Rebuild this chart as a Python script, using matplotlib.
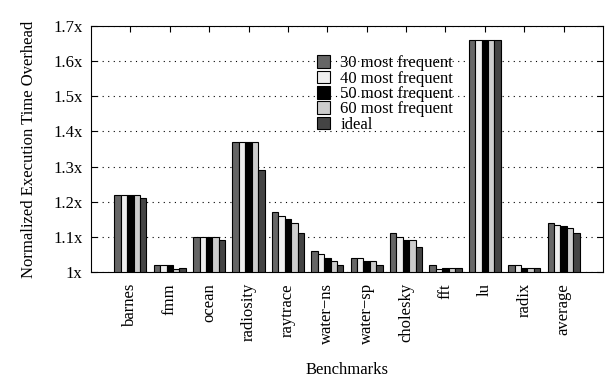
import matplotlib
matplotlib.use("Agg")
import matplotlib.pyplot as plt
import numpy as np

categories = ["barnes", "fmm", "ocean", "radiosity", "raytrace", "water\u2212ns",
              "water\u2212sp", "cholesky", "fft", "lu", "radix", "average"]
series_names = ["30 most frequent", "40 most frequent", "50 most frequent",
                "60 most frequent", "ideal"]
s30 = [1.22, 1.02, 1.10, 1.37, 1.17, 1.06, 1.04, 1.11, 1.02, 1.66, 1.02, 1.14]
s40 = [1.22, 1.02, 1.10, 1.37, 1.16, 1.05, 1.04, 1.10, 1.008, 1.66, 1.02, 1.135]
s50 = [1.22, 1.02, 1.10, 1.37, 1.15, 1.04, 1.03, 1.09, 1.01, 1.66, 1.01, 1.13]
s60 = [1.22, 1.008, 1.10, 1.37, 1.14, 1.03, 1.03, 1.09, 1.01, 1.66, 1.01, 1.125]
ideal = [1.21, 1.01, 1.09, 1.29, 1.11, 1.02, 1.02, 1.07, 1.01, 1.66, 1.01, 1.11]
yticks = [1.0, 1.1, 1.2, 1.3, 1.4, 1.5, 1.6, 1.7]
ytick_labels = ["1x", "1.1x", "1.2x", "1.3x", "1.4x", "1.5x", "1.6x", "1.7x"]

colors = ["#666666", "#eeeeee", "#000000", "#cccccc", "#444444"]
series = [s30, s40, s50, s60, ideal]

plt.rcParams['font.family'] = ['Liberation Serif', 'DejaVu Serif']
fig = plt.figure(figsize=(6.08, 3.81), dpi=100)
ax = fig.add_axes([91/608, 1-272/381, (603-91)/608, (272-26)/381])

x = np.arange(len(categories))
w = 0.163
for i, (vals, c, name) in enumerate(zip(series, colors, series_names)):
    ax.bar(x + (i - 2) * w, np.array(vals) - 1.0, bottom=1.0, width=w,
           color=c, edgecolor="black", linewidth=0.8, label=name, zorder=3)

ax.set_xlim(-1, 12)
ax.set_ylim(1.0, 1.7)
ax.set_yticks(yticks)
ax.set_yticklabels(ytick_labels, fontsize=12)
ax.set_xticks(x)
ax.set_xticklabels(categories, rotation=90, fontsize=12)
ax.tick_params(axis="both", direction="in", top=True, right=True, length=4)
ax.tick_params(axis="x", bottom=False, top=True, pad=8)
ax.tick_params(axis="y", pad=6)
ax.yaxis.grid(True, linestyle=(0, (1, 4)), color="black", linewidth=0.8, zorder=0)
ax.set_axisbelow(True)
ax.set_xlabel("Benchmarks", fontsize=12, labelpad=13)
ax.set_ylabel("Normalized Execution Time Overhead", fontsize=12, labelpad=12)

leg = ax.legend(loc="upper left", bbox_to_anchor=(0.425, 0.915), frameon=False,
                fontsize=12, handlelength=0.8, handleheight=0.8,
                handletextpad=0.6, labelspacing=-0.05, borderpad=0)

fig.savefig("out.png", dpi=100)
